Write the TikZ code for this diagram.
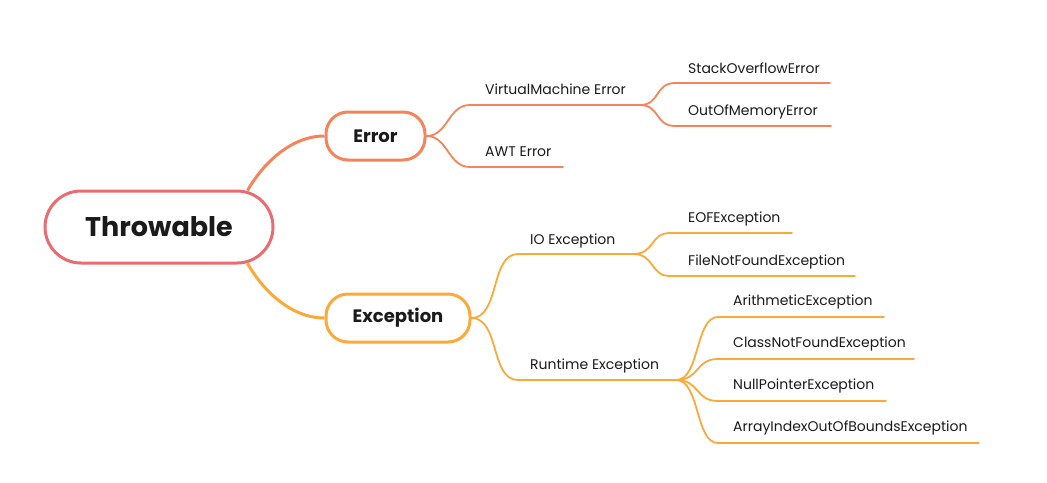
\documentclass[tikz,border=0pt]{standalone}
\usepackage{fontspec}
\setmainfont{Poppins}
\begin{document}
\begin{tikzpicture}[x=1pt,y=-1pt,
  root/.style={draw=rootc, line width=3pt, rounded corners=36pt, minimum width=228pt, minimum height=72pt, font=\fontsize{27}{30}\selectfont\bfseries, text=txt},
  mainbox/.style={line width=3pt, rounded corners=22pt, minimum height=48pt, font=\fontsize{18}{21}\selectfont\bfseries, text=txt},
  leaf/.style={anchor=base west, inner sep=0pt, font=\fontsize{14}{16}\selectfont, text=txt},
  errl/.style={draw=errc, line width=1.8pt, line cap=round},
  excl/.style={draw=excc, line width=1.8pt, line cap=round},
  errm/.style={draw=errc, line width=3pt},
  excm/.style={draw=excc, line width=3pt},
]
\definecolor{rootc}{HTML}{EB6B73}
\definecolor{errc}{HTML}{F6845A}
\definecolor{excc}{HTML}{FBAA3A}
\definecolor{txt}{HTML}{1A1A1A}
\useasboundingbox (0,0) rectangle (1047,482);

\node[root] (thr) at (159,227) {Throwable};
\node[mainbox, draw=errc, minimum width=99pt] (err) at (375.5,136) {Error};
\node[mainbox, draw=excc, minimum width=144pt] (exc) at (398,318) {Exception};

\draw[errm] (thr.north east) ++(-27,1) coordinate (t1) .. controls (262,165) and (290,136) .. (err.west);
\draw[excm] (thr.south east) ++(-27,-1) coordinate (t2) .. controls (262,289) and (290,318) .. (exc.west);

% Error children
\node[leaf] (vm) at (485,94) {VirtualMachine Error};
\node[leaf] (awt) at (485,156) {AWT Error};
\coordinate (vm-s) at (470,105); \coordinate (vm-e) at (640,105);
\coordinate (awt-s) at (470,167); \coordinate (awt-e) at (563,167);
\draw[errl] (err.east) .. controls (448,136) and (448,105) .. (vm-s) -- (vm-e);
\draw[errl] (err.east) .. controls (448,136) and (448,167) .. (awt-s) -- (awt-e);

\node[leaf] (so) at (688,73) {StackOverflowError};
\node[leaf] (oom) at (688,115) {OutOfMemoryError};
\coordinate (so-s) at (675,83); \coordinate (so-e) at (830,83);
\coordinate (oom-s) at (675,126); \coordinate (oom-e) at (831,126);
\draw[errl] (vm-e) .. controls (660,105) and (655,83) .. (so-s) -- (so-e);
\draw[errl] (vm-e) .. controls (660,105) and (655,126) .. (oom-s) -- (oom-e);

% Exception children
\node[leaf] (io) at (530,244) {IO Exception};
\node[leaf] (rt) at (530,369) {Runtime Exception};
\coordinate (io-s) at (518,254); \coordinate (io-e) at (633,254);
\coordinate (rt-s) at (518,380); \coordinate (rt-e) at (676,380);
\draw[excl] (exc.east) .. controls (500,318) and (490,254) .. (io-s) -- (io-e);
\draw[excl] (exc.east) .. controls (500,318) and (490,380) .. (rt-s) -- (rt-e);

\node[leaf] (eof) at (688,222) {EOFException};
\node[leaf] (fnf) at (688,265) {FileNotFoundException};
\coordinate (eof-s) at (670,233); \coordinate (eof-e) at (792,233);
\coordinate (fnf-s) at (670,276); \coordinate (fnf-e) at (855,276);
\draw[excl] (io-e) .. controls (655,254) and (650,233) .. (eof-s) -- (eof-e);
\draw[excl] (io-e) .. controls (655,254) and (650,276) .. (fnf-s) -- (fnf-e);

\node[leaf] (ar) at (733,305) {ArithmeticException};
\node[leaf] (cnf) at (733,347) {ClassNotFoundException};
\node[leaf] (np) at (733,389) {NullPointerException};
\node[leaf] (ai) at (733,431) {ArrayIndexOutOfBoundsException};
\coordinate (ar-s) at (718,317); \coordinate (ar-e) at (884,317);
\coordinate (cnf-s) at (718,359); \coordinate (cnf-e) at (914,359);
\coordinate (np-s) at (718,401); \coordinate (np-e) at (886,401);
\coordinate (ai-s) at (718,443); \coordinate (ai-e) at (979,443);
\draw[excl] (rt-e) .. controls (700,380) and (695,317) .. (ar-s) -- (ar-e);
\draw[excl] (rt-e) .. controls (700,380) and (695,359) .. (cnf-s) -- (cnf-e);
\draw[excl] (rt-e) .. controls (700,380) and (695,401) .. (np-s) -- (np-e);
\draw[excl] (rt-e) .. controls (700,380) and (695,443) .. (ai-s) -- (ai-e);
\end{tikzpicture}
\end{document}
